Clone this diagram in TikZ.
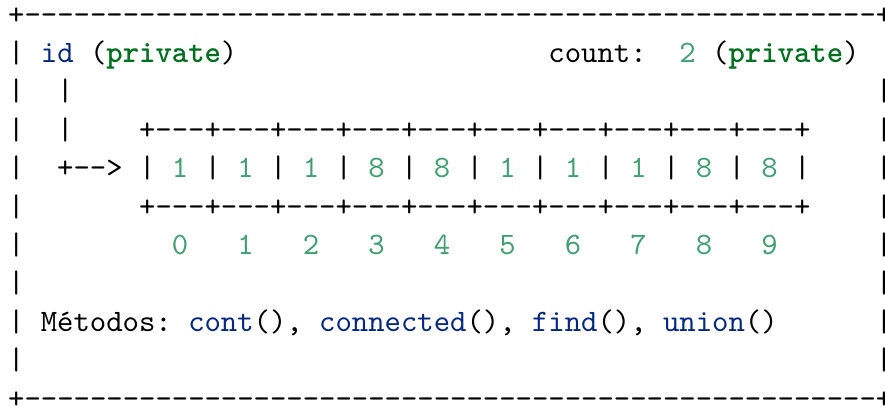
\documentclass[tikz,border=0pt]{standalone}
\usepackage{fontspec}
\setmonofont{lmmono10-regular.otf}[BoldFont=lmmonolt10-bold.otf]
\definecolor{kwgreen}{HTML}{007020}
\definecolor{fnblue}{HTML}{06287E}
\definecolor{numgreen}{HTML}{40A070}
\newcommand{\kw}[1]{\textcolor{kwgreen}{\bfseries #1}}
\newcommand{\fn}[1]{\textcolor{fnblue}{#1}}
\newcommand{\num}[1]{\textcolor{numgreen}{#1}}
\newcommand{\gap}[1]{\hspace*{#1\dimexpr0.525em\relax}}
\newcommand{\rep}[2]{\foreach \r in {1,...,#1}{#2}}
\frenchspacing

\begin{document}
\begin{tikzpicture}[x=5.25pt, y=12.31pt,
	line/.style={anchor=base west, inner sep=0pt, font=\ttfamily\fontsize{10pt}{12pt}\selectfont}]
		\useasboundingbox (-0.459,0.63) rectangle (53.59,-9.948);
		\node (top)[line] at (0,0) {+\rep{52}{-}+};
		\node (fields)[line] at (0,-1) {|~\fn{id}~(\kw{private})\gap{19}count:~~\num{2}~(\kw{private})};
		\node (link1)[line] at (0,-2) {|\gap{2}|\gap{49}|};
		\node (celltop)[line] at (0,-3) {|\gap{2}|\gap{4}\rep{10}{+---}+\gap{4}|};
		\node (cells)[line] at (0,-4) {|\gap{2}+-->~\foreach \v in {1,1,1,8,8,1,1,1,8,8}{|~\num{\v}~}|\gap{4}|};
		\node (cellbot)[line] at (0,-5) {|\gap{7}\rep{10}{+---}+\gap{4}|};
		\node (index)[line] at (0,-6) {|\gap{9}\foreach \i in {0,...,9}{\num{\i}\gap{3}}\gap{3}|};
		\node (blank1)[line] at (0,-7) {|\gap{52}|};
		\node (methods)[line] at (0,-8) {|~Métodos:~\fn{cont}(),~\fn{connected}(),~\fn{find}(),~\fn{union}()\gap{6}|};
		\node (blank2)[line] at (0,-9) {|\gap{52}|};
		\node (bottom)[line] at (0,-10) {+\rep{52}{-}+};
	\end{tikzpicture}
\end{document}
